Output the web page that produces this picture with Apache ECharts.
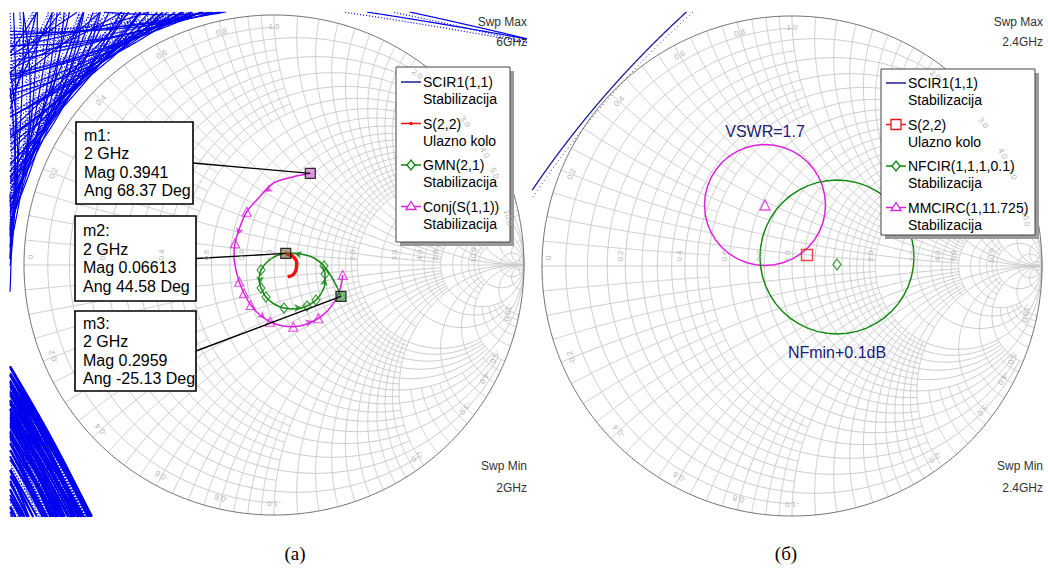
<!DOCTYPE html>
<html>
<head>
<meta charset="utf-8">
<title>Smith charts</title>
<script src="https://cdn.jsdelivr.net/npm/echarts@6.0.0/dist/echarts.min.js"></script>
<style>
  html, body { margin: 0; padding: 0; background: #ffffff; }
  #chart { width: 1048px; height: 576px; }
</style>
</head>
<body>
<div id="chart"></div>
<script>
// ---------------- Smith grid: groups of circle values, each group with its reach ----------------
const resA = [0.05, 0.15, 0.25, 0.35, 0.45];                                 // to |x| = 1
const resB = [0.1, 0.3, 0.5, 0.7, 0.9, 1.1, 1.3, 1.5, 1.7, 1.9];             // to |x| = 2
const resC = [0.2, 0.4, 0.6, 0.8, 1.2, 1.4, 1.6, 1.8];                       // to |x| = 5
const resD = [2.5, 3.5, 4.5];                                                // to |x| = 2
const resE = [3, 4];                                                         // to |x| = 10
const resF = [6, 7, 8, 9];                                                   // to |x| = 5
const resG = [1, 2, 5, 10, 20, 50];                                          // whole circle
const reaA = [0.05, 0.15, 0.25, 0.35, 0.45, 0.55, 0.65, 0.75, 0.85, 0.95];   // to r = 0.5
const reaB = [0.1, 0.3, 0.5, 0.7, 0.9, 1.1, 1.3, 1.5, 1.7, 1.9];             // to r = 2
const reaC = [0.2, 0.4, 0.6, 0.8, 1.2, 1.4, 1.6, 1.8];                       // to r = 5
const reaD = [2.2, 2.4, 2.6, 2.8, 3.5, 4.5];                                 // to r = 1
const reaE = [3, 4];                                                         // to r = 10
const reaF = [6, 7, 8, 9];                                                   // to r = 5
const reaG = [0, 1, 2, 5, 10, 20, 50];                                       // to the right-hand point
const resLabels = ['0.2', '0.4', '0.6', '0.8', '1.0', '2.0', '3.0', '4.0', '5.0', '10.0'];
const reaLabels = ['0.2', '0.4', '0.6', '0.8', '1.0', '2.0', '3.0', '4.0', '5.0', '10.0'];

// ---------------- Panel (a): traces as reflection coefficient (re, im) ----------------
const s22Re = [0.047, 0.077, 0.091, 0.088, 0.075, 0.055];
const s22Im = [0.046, 0.033, 0.007, -0.020, -0.040, -0.047];

const gmnRe = [0.268, 0.252, 0.228, 0.200, 0.160, 0.108, 0.056, 0.008, -0.028, -0.052, -0.060, -0.052, -0.032, 0.000, 0.040, 0.088, 0.132, 0.168, 0.192, 0.204, 0.204, 0.192];
const gmnIm = [-0.126, -0.088, -0.044, -0.004, 0.028, 0.044, 0.048, 0.036, 0.012, -0.020, -0.056, -0.092, -0.128, -0.156, -0.172, -0.176, -0.164, -0.140, -0.108, -0.072, -0.036, -0.004];
const gmnMarked = [3, 9, 11, 12, 14, 16, 17, 20];
const gmnArrows = [5, 10, 15, 19];

const conjRe = [0.145, 0.077, -0.003, -0.069, -0.109, -0.136, -0.156, -0.160, -0.152, -0.139, -0.120, -0.093, -0.056, -0.016, 0.031, 0.077, 0.131, 0.177, 0.217, 0.248, 0.267, 0.275];
const conjIm = [0.366, 0.353, 0.327, 0.260, 0.213, 0.153, 0.087, 0.033, -0.020, -0.067, -0.113, -0.160, -0.200, -0.227, -0.243, -0.247, -0.236, -0.213, -0.180, -0.137, -0.087, -0.040];
const conjMarked = [4, 6, 9, 10, 11, 13, 15, 17, 21];
const conjArrows = [2, 5, 12, 16];

// Markers at 2 GHz
const markerName = ['m1:', 'm2:', 'm3:'];
const markerFreq = ['2 GHz', '2 GHz', '2 GHz'];
const markerMag  = [0.3941, 0.06613, 0.2959];
const markerAng  = [68.37, 44.58, -25.13];

// Stability circles (a): direction of the point nearest the origin (deg), that distance, radius.
// Upper-left family (circles lying outside the chart)
const scirTLDir = [178, 175, 172, 169, 166, 163, 160, 157, 154, 151, 148, 145, 142, 139, 136, 133, 130, 127, 124, 121, 118, 115, 112, 109, 106, 103, 100, 97,
                   170, 160, 150, 140, 130, 120, 110, 165, 145, 125, 155, 135,
                   176, 179, 173, 167, 161, 155, 149, 143, 137, 131, 125, 119, 113, 107, 101];
const scirTLGap = [1.056, 1.050, 1.055, 1.048, 1.060, 1.052, 1.045, 1.058, 1.050, 1.062, 1.048, 1.055, 1.060, 1.050, 1.058, 1.064, 1.052, 1.060, 1.055, 1.048, 1.060, 1.052, 1.045, 1.050, 1.040, 1.035, 1.030, 1.028,
                   1.15, 1.20, 1.25, 1.30, 1.22, 1.18, 1.12, 1.30, 1.35, 1.28, 1.10, 1.12,
                   1.055, 1.052, 1.062, 1.058, 1.066, 1.061, 1.068, 1.063, 1.070, 1.064, 1.069, 1.062, 1.058, 1.050, 1.042];
const scirTLRad = [1.5, 3.0, 2.0, 4.5, 1.8, 3.5, 2.5, 5.0, 2.2, 3.8, 1.6, 4.2, 2.8, 6.0, 2.0, 3.2, 4.8, 2.4, 5.5, 1.9, 3.6, 2.7, 4.4, 2.1, 5.2, 3.0, 6.5, 2.6,
                   3.0, 5.0, 4.0, 6.0, 3.5, 5.0, 4.0, 8.0, 6.0, 7.0, 9.0, 10.0,
                   8.0, 4.0, 7.0, 9.0, 6.5, 8.5, 7.5, 9.5, 6.0, 8.0, 7.0, 9.0, 6.5, 8.0, 7.5];
// Lower-left family (circles lying outside the chart, nearly straight in view)
const scirBLDir = [210, 209, 211, 208, 212, 210, 207, 213, 209, 211, 206, 214, 210, 208, 212, 209, 211, 207, 213, 210,
                   208, 212, 209, 211, 210, 206, 214, 209, 211, 208, 212, 210, 209, 211, 210, 208, 212, 209, 211, 210,
                   209, 211, 210, 212, 208, 210, 211, 209, 213, 210, 208, 211, 209, 212, 210, 209, 211, 208, 210, 212];
const scirBLGap = [1.115, 1.121, 1.129, 1.138, 1.144, 1.153, 1.159, 1.168, 1.174, 1.183, 1.189, 1.198, 1.204, 1.213, 1.219, 1.228, 1.235, 1.241, 1.250, 1.256,
                   1.266, 1.271, 1.280, 1.286, 1.296, 1.301, 1.310, 1.317, 1.324, 1.333, 1.339, 1.348, 1.354, 1.363, 1.369, 1.378, 1.385, 1.392, 1.400, 1.410,
                   1.118, 1.125, 1.133, 1.141, 1.149, 1.156, 1.164, 1.171, 1.179, 1.186, 1.193, 1.201, 1.209, 1.216, 1.224, 1.231, 1.238, 1.246, 1.253, 1.261];
const scirBLRad = [6, 8, 5, 9, 7, 6, 10, 5, 8, 7, 9, 6, 8, 5, 10, 7, 6, 9, 8, 5,
                   7, 10, 6, 8, 9, 5, 7, 6, 10, 8, 5, 9, 7, 6, 8, 10, 5, 7, 9, 6,
                   9, 7, 8, 6, 10, 7, 9, 8, 6, 10, 7, 9, 8, 6, 10, 7, 8, 9, 6, 7];
// Upper-right family (very large circles enclosing the chart)
const scirTRDir = [82, 79, 85];
const scirTRGap = [1.055, 1.10, 1.15];
const scirTRRad = [20, 18, 15];
// Stability circle (b), enclosing the chart
const scirBDir = [139.5];
const scirBGap = [1.012];
const scirBRad = [4.0];

// ---------------- Panel (b) ----------------
const mmCenter = [-0.108, 0.244];   // MMCIRC centre (triangle), VSWR=1.7 circle
const mmRadius = 0.242;
const nfCenter = [0.180, 0.036];    // NFCIR circle
const nfRadius = 0.308;
const nfOpt    = [0.180, 0.006];    // diamond
const s22B     = [0.060, 0.044];    // square

const sweepA = ['Swp Max', '6GHz', 'Swp Min', '2GHz'];
const sweepB = ['Swp Max', '2.4GHz', 'Swp Min', '2.4GHz'];

// ---------------- colours and fonts ----------------
const C_GRID = '#cccccc', C_RIM = '#6e6e6e', C_BLUE = '#0000ee', C_BLUE_B = '#1c1c9a';
const C_RED = '#ee1111', C_GREEN = '#118811', C_MAG = '#dd22dd', C_NAVY = '#202078', C_LBL = '#b4b4b4';
const SANS = '"Liberation Sans", Arial, sans-serif';
const SERIF = '"Liberation Serif", "Times New Roman", serif';

// Plot rectangles and visible reflection-coefficient ranges
const panels = [
  { grid: { left: 10, top: 12, width: 517, height: 505 }, x: [-1.056, 1.012], y: [-1.008, 1.012] },
  { grid: { left: 532, top: 12, width: 513, height: 505 }, x: [-1.040, 1.012], y: [-1.004, 1.016] }
];

// z = r + jx  ->  reflection coefficient
function gammaOf(r, x) {
  const d = (r + 1) * (r + 1) + x * x;
  return [(r * r + x * x - 1) / d, (2 * x) / d];
}
function resistanceArc(r, reach) {
  const t0 = Math.atan(reach), pts = [], n = 260;
  for (let i = 0; i <= n; i++) {
    const t = -t0 + (2 * t0) * i / n;
    const x = Math.abs(t) >= Math.PI / 2 - 1e-9 ? Math.sign(t) * 1e9 : Math.tan(t);
    pts.push(gammaOf(r, x));
  }
  return pts;
}
function reactanceArc(x, reach) {
  const u0 = Math.atan(reach), pts = [], n = 200;
  for (let i = 0; i <= n; i++) {
    const u = u0 * i / n;
    const r = u >= Math.PI / 2 - 1e-9 ? 1e9 : Math.tan(u);
    pts.push(gammaOf(r, x));
  }
  return pts;
}
function circlePts(cx, cy, rad, n) {
  const pts = [];
  for (let i = 0; i <= n; i++) {
    const a = 2 * Math.PI * i / n;
    pts.push([cx + rad * Math.cos(a), cy + rad * Math.sin(a)]);
  }
  return pts;
}
function clipTo(pts, b) {
  const out = []; let cur = [];
  for (const p of pts) {
    if (p[0] >= b.x[0] && p[0] <= b.x[1] && p[1] >= b.y[0] && p[1] <= b.y[1]) cur.push(p);
    else { if (cur.length > 1) out.push(cur); cur = []; }
  }
  if (cur.length > 1) out.push(cur);
  return out;
}
function smithGrid(b) {
  const lines = [];
  const addR = (vals, reach) => vals.forEach(r => clipTo(resistanceArc(r, reach), b).forEach(c => lines.push({ coords: c })));
  const addX = (vals, reach) => vals.forEach(x => {
    clipTo(reactanceArc(x, reach), b).forEach(c => lines.push({ coords: c }));
    if (x > 0) clipTo(reactanceArc(-x, reach), b).forEach(c => lines.push({ coords: c }));
  });
  addR(resA, 1); addR(resB, 2); addR(resC, 5); addR(resD, 2); addR(resE, 10); addR(resF, 5); addR(resG, Infinity);
  addX(reaA, 0.5); addX(reaB, 2); addX(reaC, 5); addX(reaD, 1); addX(reaE, 10); addX(reaF, 5); addX(reaG, Infinity);
  return lines;
}
// Stability circles from their nearest point: direction dir, distance gap, radius rad.
// enclose = true: the circle surrounds the chart; otherwise it lies outside it.
function stabilityLines(dirs, gaps, rads, b, shrink, enclose) {
  const lines = [];
  dirs.forEach((d, i) => {
    const a = d * Math.PI / 180;
    const rad = rads[i] - shrink;
    const k = enclose ? -(rads[i] - gaps[i]) : (rads[i] + gaps[i]);
    const cx = k * Math.cos(a), cy = k * Math.sin(a);
    const n = Math.ceil(2 * Math.PI * rad / 0.003);
    clipTo(circlePts(cx, cy, rad, n), b).forEach(c => lines.push({ coords: c }));
  });
  return lines;
}
function polar(mag, angDeg) {
  const a = angDeg * Math.PI / 180;
  return [mag * Math.cos(a), mag * Math.sin(a)];
}
const zip = (re, im) => re.map((v, i) => [v, im[i]]);
function arrowsOn(pts, idx) {
  return idx.map(i => {
    const a = pts[Math.max(0, i - 1)], b = pts[Math.min(pts.length - 1, i + 1)];
    const ang = Math.atan2(b[1] - a[1], b[0] - a[0]) * 180 / Math.PI;
    return { value: [(pts[i][0] + b[0]) / 2, (pts[i][1] + b[1]) / 2], symbolRotate: ang - 90 };
  });
}

const chart = echarts.init(document.getElementById('chart'), null, { renderer: 'svg' });

const linesSeries = (k, data, style, z) => ({
  type: 'lines', coordinateSystem: 'cartesian2d', xAxisIndex: k, yAxisIndex: k, polyline: true, silent: true,
  lineStyle: Object.assign({ opacity: 1 }, style), data: data, z: z, animation: false
});

const series = [];
panels.forEach((p, k) => {
  series.push(linesSeries(k, smithGrid(p), { color: C_GRID, width: 1 }, 1));
  series.push(linesSeries(k, clipTo(circlePts(0, 0, 1, 720), p).map(c => ({ coords: c })), { color: C_RIM, width: 1 }, 2));
});

// Stability circles (a): solid traces and the dotted edge drawn next to each one
[[scirTLDir, scirTLGap, scirTLRad, false, 1.2], [scirBLDir, scirBLGap, scirBLRad, false, 2.0], [scirTRDir, scirTRGap, scirTRRad, true, 1.2]].forEach(([d, gp, r, enc, w]) => {
  series.push(linesSeries(0, stabilityLines(d, gp, r, panels[0], 0, enc), { color: C_BLUE, width: w }, 3));
  series.push(linesSeries(0, stabilityLines(d, gp, r, panels[0], 0.014, enc), { color: C_BLUE, width: 1.2, type: [1, 2] }, 3));
});
series.push(linesSeries(1, stabilityLines(scirBDir, scirBGap, scirBRad, panels[1], 0, true), { color: C_BLUE_B, width: 1.3 }, 3));
series.push(linesSeries(1, stabilityLines(scirBDir, scirBGap, scirBRad, panels[1], 0.018, true), { color: C_BLUE_B, width: 1, type: [1, 3] }, 3));

// Panel (a) traces
const conjPts = zip(conjRe, conjIm);
const gmnPts = zip(gmnRe, gmnIm);
const s22Pts = zip(s22Re, s22Im);
series.push({ type: 'line', xAxisIndex: 0, yAxisIndex: 0, data: conjPts, showSymbol: false, smooth: 0.3,
  lineStyle: { color: C_MAG, width: 1.5 }, z: 5, animation: false, silent: true });
series.push({ type: 'scatter', xAxisIndex: 0, yAxisIndex: 0, data: conjMarked.map(i => conjPts[i]), symbol: 'triangle', symbolSize: 9,
  itemStyle: { color: 'rgba(255,255,255,0)', borderColor: C_MAG, borderWidth: 1.2 }, z: 6, animation: false, silent: true });
series.push({ type: 'scatter', xAxisIndex: 0, yAxisIndex: 0, data: arrowsOn(conjPts, conjArrows), symbol: 'arrow', symbolSize: [6, 7],
  itemStyle: { color: C_MAG }, z: 6, animation: false, silent: true });
series.push({ type: 'line', xAxisIndex: 0, yAxisIndex: 0, data: gmnPts, showSymbol: false, smooth: 0.3,
  lineStyle: { color: C_GREEN, width: 1.5 }, z: 5, animation: false, silent: true });
series.push({ type: 'scatter', xAxisIndex: 0, yAxisIndex: 0, data: gmnMarked.map(i => gmnPts[i]), symbol: 'diamond', symbolSize: [8, 10],
  itemStyle: { color: 'rgba(255,255,255,0)', borderColor: C_GREEN, borderWidth: 1.2 }, z: 6, animation: false, silent: true });
series.push({ type: 'scatter', xAxisIndex: 0, yAxisIndex: 0, data: arrowsOn(gmnPts, gmnArrows), symbol: 'arrow', symbolSize: [6, 7],
  itemStyle: { color: C_GREEN }, z: 6, animation: false, silent: true });
series.push({ type: 'line', xAxisIndex: 0, yAxisIndex: 0, data: s22Pts, showSymbol: false, smooth: 0.3,
  lineStyle: { color: C_RED, width: 3.5 }, z: 5, animation: false, silent: true });

const markerPts = markerMag.map((m, i) => polar(m, markerAng[i]));
const markerFill = ['rgba(200,90,200,0.75)', 'rgba(110,90,40,0.7)', 'rgba(40,130,40,0.7)'];
series.push({ type: 'scatter', xAxisIndex: 0, yAxisIndex: 0, symbol: 'rect', symbolSize: 10,
  data: markerPts.map((p, i) => ({ value: p, itemStyle: { color: markerFill[i], borderColor: '#000', borderWidth: 1.2 } })),
  z: 8, animation: false, silent: true });

// Panel (b)
series.push({ type: 'line', xAxisIndex: 1, yAxisIndex: 1, data: circlePts(mmCenter[0], mmCenter[1], mmRadius, 40), showSymbol: false,
  lineStyle: { color: C_MAG, width: 1.5 }, z: 5, animation: false, silent: true });
series.push({ type: 'line', xAxisIndex: 1, yAxisIndex: 1, data: circlePts(nfCenter[0], nfCenter[1], nfRadius, 48), showSymbol: false,
  lineStyle: { color: C_GREEN, width: 1.5 }, z: 5, animation: false, silent: true });
series.push({ type: 'scatter', xAxisIndex: 1, yAxisIndex: 1, data: [mmCenter], symbol: 'triangle', symbolSize: 10,
  itemStyle: { color: 'rgba(255,255,255,0)', borderColor: C_MAG, borderWidth: 1.3 }, z: 6, animation: false, silent: true });
series.push({ type: 'scatter', xAxisIndex: 1, yAxisIndex: 1, data: [nfOpt], symbol: 'diamond', symbolSize: [8, 11],
  itemStyle: { color: 'rgba(255,255,255,0)', borderColor: C_GREEN, borderWidth: 1.3 }, z: 6, animation: false, silent: true });
series.push({ type: 'scatter', xAxisIndex: 1, yAxisIndex: 1, data: [s22B], symbol: 'rect', symbolSize: 11,
  itemStyle: { color: 'rgba(255,255,255,0)', borderColor: C_RED, borderWidth: 1.4 }, z: 6, animation: false, silent: true });

chart.setOption({
  backgroundColor: '#ffffff',
  animation: false,
  grid: panels.map(p => Object.assign({ containLabel: false, show: false }, p.grid)),
  xAxis: panels.map((p, k) => ({ type: 'value', gridIndex: k, min: p.x[0], max: p.x[1], show: false })),
  yAxis: panels.map((p, k) => ({ type: 'value', gridIndex: k, min: p.y[0], max: p.y[1], show: false })),
  series: series
});

// ---------------- annotations placed from the axes ----------------
const toPx = (k, pt) => chart.convertToPixel({ gridIndex: k }, pt);
const g = [];
function txt(x, y, s, font, fill, align, vAlign, rot) {
  return { type: 'text', z: 50, silent: true, x: x, y: y, rotation: rot || 0,
    style: { x: 0, y: 0, text: s, font: font, fill: fill || '#000', align: align || 'left', verticalAlign: vAlign || 'middle',
             textAlign: align || 'left', textVerticalAlign: vAlign || 'middle' } };
}

// Grid value labels
panels.forEach((p, k) => {
  const o = toPx(k, [-1, 0]);
  g.push(txt(o[0] + 6, o[1] - 8, '0', '8px ' + SANS, C_LBL, 'center', 'middle', Math.PI / 2));
  resLabels.forEach(s => {
    const q = toPx(k, gammaOf(parseFloat(s), 0));
    g.push(txt(q[0] - 5, q[1] - 10, s, '8px ' + SANS, C_LBL, 'center', 'middle', Math.PI / 2));
  });
  reaLabels.forEach(s => {
    [1, -1].forEach(sg => {
      const gm = gammaOf(0, sg * parseFloat(s));
      const q = toPx(k, [gm[0] * 0.955, gm[1] * 0.955]);
      const ang = Math.atan2(gm[1], gm[0]);
      g.push(txt(q[0], q[1], (sg < 0 ? '-' : '') + s, '8px ' + SANS, C_LBL, 'center', 'middle', ang - Math.PI / 2));
    });
  });
});

// Marker boxes with leader lines
const boxes = [
  { x: 76, y: 122, w: 117, h: 82 },
  { x: 75, y: 216, w: 121, h: 85 },
  { x: 75, y: 311, w: 121, h: 80 }
];
boxes.forEach((b, i) => {
  const mp = toPx(0, markerPts[i]);
  g.push({ type: 'line', z: 40, silent: true, shape: { x1: b.x + b.w, y1: b.y + b.h / 2, x2: mp[0], y2: mp[1] },
    style: { stroke: '#000', lineWidth: 1.4 } });
  g.push({ type: 'rect', z: 45, silent: true, shape: { x: b.x, y: b.y, width: b.w, height: b.h },
    style: { fill: '#fff', stroke: '#000', lineWidth: 1.6 } });
  const lines = [markerName[i], markerFreq[i], 'Mag ' + markerMag[i], 'Ang ' + markerAng[i].toFixed(2) + ' Deg'];
  const y0 = b.y + b.h / 2 - 27.75;
  lines.forEach((s, j) => g.push(txt(b.x + 8, y0 + j * 18.5, s, '16px ' + SANS, '#000')));
});

// Legends
function symbolShape(kind, cx, cy, color) {
  if (kind === 'dot') return { type: 'circle', z: 47, silent: true, shape: { cx: cx, cy: cy, r: 1.8 }, style: { fill: color } };
  if (kind === 'square') return { type: 'rect', z: 47, silent: true, shape: { x: cx - 5, y: cy - 5, width: 10, height: 10 }, style: { fill: '#fff', stroke: color, lineWidth: 1.3 } };
  if (kind === 'diamond') return { type: 'polygon', z: 47, silent: true, shape: { points: [[cx, cy - 5], [cx + 4, cy], [cx, cy + 5], [cx - 4, cy]] }, style: { fill: '#fff', stroke: color, lineWidth: 1.3 } };
  if (kind === 'triangle') return { type: 'polygon', z: 47, silent: true, shape: { points: [[cx, cy - 5], [cx + 5, cy + 3], [cx - 5, cy + 3]] }, style: { fill: '#fff', stroke: color, lineWidth: 1.3 } };
  return null;
}
function legend(x, y, w, h, items, y0) {
  g.push({ type: 'rect', z: 44, silent: true, shape: { x: x + 4, y: y + 4, width: w, height: h }, style: { fill: '#9a9a9a' } });
  g.push({ type: 'rect', z: 45, silent: true, shape: { x: x, y: y, width: w, height: h }, style: { fill: '#fff', stroke: '#444', lineWidth: 1 } });
  items.forEach((it, i) => {
    const yy = y0 + i * 41.5;
    g.push({ type: 'line', z: 46, silent: true, shape: { x1: x + 5, y1: yy, x2: x + 25, y2: yy }, style: { stroke: it.color, lineWidth: 1.5 } });
    const s = symbolShape(it.symbol, x + 15, yy, it.color);
    if (s) g.push(s);
    g.push(txt(x + 27, yy, it.name, '14px ' + SANS, '#000'));
    g.push(txt(x + 27, yy + 17, it.sub, '14px ' + SANS, '#000'));
  });
}
legend(396, 67, 114, 175, [
  { color: C_BLUE_B, symbol: null, name: 'SCIR1(1,1)', sub: 'Stabilizacija' },
  { color: C_RED, symbol: 'dot', name: 'S(2,2)', sub: 'Ulazno kolo' },
  { color: C_GREEN, symbol: 'diamond', name: 'GMN(2,1)', sub: 'Stabilizacija' },
  { color: C_MAG, symbol: 'triangle', name: 'Conj(S(1,1))', sub: 'Stabilizacija' }
], 82);
legend(881, 69, 154, 166, [
  { color: C_BLUE_B, symbol: null, name: 'SCIR1(1,1)', sub: 'Stabilizacija' },
  { color: C_RED, symbol: 'square', name: 'S(2,2)', sub: 'Ulazno kolo' },
  { color: C_GREEN, symbol: 'diamond', name: 'NFCIR(1,1,1,0.1)', sub: 'Stabilizacija' },
  { color: C_MAG, symbol: 'triangle', name: 'MMCIRC(1,11.725)', sub: 'Stabilizacija' }
], 83);

// Sweep limits
[[527, sweepA], [1043, sweepB]].forEach(([xr, s]) => {
  g.push(txt(xr, 22, s[0], '12px ' + SANS, '#333', 'right'));
  g.push(txt(xr, 42, s[1], '12px ' + SANS, '#333', 'right'));
  g.push(txt(xr, 466, s[2], '12px ' + SANS, '#333', 'right'));
  g.push(txt(xr, 488, s[3], '12px ' + SANS, '#333', 'right'));
});

// Circle captions in panel (b)
const vsw = toPx(1, [mmCenter[0], mmCenter[1] + mmRadius]);
g.push(txt(vsw[0], vsw[1] - 13, 'VSWR=1.7', '16px ' + SANS, C_NAVY, 'center'));
const nfl = toPx(1, [nfCenter[0], nfCenter[1] - nfRadius]);
g.push(txt(nfl[0], nfl[1] + 18, 'NFmin+0.1dB', '16px ' + SANS, C_NAVY, 'center'));

// Panel captions
g.push(txt(295, 553, '(а)', '19px ' + SERIF, '#000', 'center'));
g.push(txt(786, 553, '(б)', '19px ' + SERIF, '#000', 'center'));

chart.setOption({ graphic: { elements: g } });
</script>
</body>
</html>
